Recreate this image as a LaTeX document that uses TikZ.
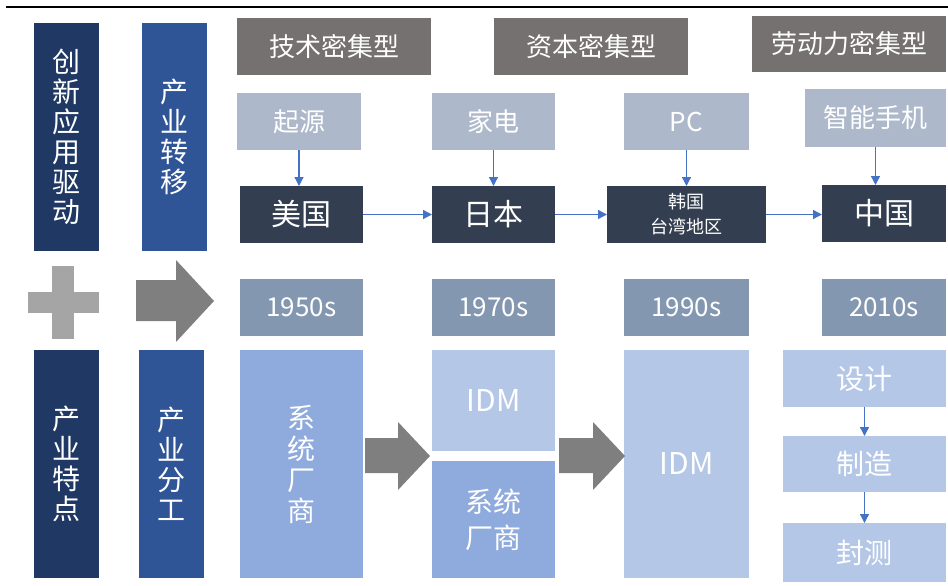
\documentclass[tikz,border=0pt]{standalone}
\usepackage{fontspec}
\setmainfont{Noto Sans CJK SC}
\usetikzlibrary{arrows.meta}
\definecolor{cNavy}{HTML}{203864}
\definecolor{cRoyal}{HTML}{2F5597}
\definecolor{cHead}{HTML}{767171}
\definecolor{cSub}{HTML}{ADB9CA}
\definecolor{cDark}{HTML}{333F50}
\definecolor{cYear}{HTML}{8497B0}
\definecolor{cMid}{HTML}{8FAADC}
\definecolor{cLight}{HTML}{B4C7E7}
\definecolor{cLink}{HTML}{4472C4}
\definecolor{cPlus}{HTML}{A5A5A5}
\definecolor{cBig}{HTML}{7F7F7F}
\begin{document}
\begin{tikzpicture}[x=1pt,y=-1pt,
  box/.style={anchor=north west, inner sep=0pt, outer sep=0pt, text=white, align=center},
  headbox/.style={box, fill=cHead, font=\fontsize{26}{30}\selectfont},
  subbox/.style={box, fill=cSub, font=\fontsize{26}{30}\selectfont},
  ctrybox/.style={box, fill=cDark, font=\fontsize{30}{34}\selectfont},
  yearbox/.style={box, fill=cYear, font=\fontsize{26}{30}\selectfont},
  vertbox/.style={box, font=\fontsize{28}{30}\selectfont},
  botbox/.style={box, font=\fontsize{28}{36}\selectfont},
  idmbox/.style={box, fill=cLight, font=\fontsize{30}{36}\selectfont},
  link/.style={draw=cLink, line width=1.3pt, -{Triangle[width=9pt,length=9pt]}}
]
\useasboundingbox (0,0) rectangle (948,586);
\draw[line width=2pt] (6,7.5) -- (948,7.5);

% left column
\node[vertbox, fill=cNavy, minimum width=65pt, minimum height=228pt] (l1) at (34,23) {创\\新\\应\\用\\驱\\动};
\node[vertbox, fill=cRoyal, minimum width=65pt, minimum height=228pt] (l2) at (142,23) {产\\业\\转\\移};
\node[vertbox, fill=cNavy, minimum width=65pt, minimum height=228pt] (l3) at (34,350) {产\\业\\特\\点};
\node[vertbox, fill=cRoyal, minimum width=65pt, minimum height=228pt] (l4) at (139,350) {产\\业\\分\\工};

% plus sign and big arrow
\fill[cPlus] (28,292) rectangle (99,313);
\fill[cPlus] (52,266) rectangle (74,339);
\fill[cBig] (136,280) -- (176,280) -- (176,260) -- (214,301) -- (176,342) -- (176,321) -- (136,321) -- cycle;

% headings
\node[headbox, minimum width=194pt, minimum height=57pt] (h1) at (237,18) {技术密集型};
\node[headbox, minimum width=194pt, minimum height=57pt] (h2) at (494,18) {资本密集型};
\node[headbox, minimum width=194pt, minimum height=56pt] (h3) at (752,16) {劳动力密集型};

% products
\node[subbox, minimum width=124pt, minimum height=57pt] (s1) at (237,93) {起源};
\node[subbox, minimum width=123pt, minimum height=57pt] (s2) at (432,93) {家电};
\node[subbox, minimum width=125pt, minimum height=57pt] (s3) at (624,93) {PC};
\node[subbox, minimum width=141pt, minimum height=58pt] (s4) at (805,89) {智能手机};

% countries
\node[ctrybox, minimum width=123pt, minimum height=57pt] (c1) at (240,186) {美国};
\node[ctrybox, minimum width=123pt, minimum height=57pt] (c2) at (432,186) {日本};
\node[box, fill=cDark, font=\fontsize{18}{25}\selectfont, minimum width=159pt, minimum height=57pt] (c3) at (607,186) {韩国\\台湾地区};
\node[ctrybox, minimum width=124pt, minimum height=57pt] (c4) at (822,185) {中国};

% years
\node[yearbox, minimum width=123pt, minimum height=57pt] (y1) at (240,279) {1950s};
\node[yearbox, minimum width=123pt, minimum height=57pt] (y2) at (432,279) {1970s};
\node[yearbox, minimum width=125pt, minimum height=57pt] (y3) at (624,279) {1990s};
\node[yearbox, minimum width=124pt, minimum height=57pt] (y4) at (822,279) {2010s};

% division of labour
\node[vertbox, fill=cMid, minimum width=123pt, minimum height=228pt, font=\fontsize{28}{31}\selectfont] (b1) at (240,350) {系\\统\\厂\\商};
\node[idmbox, minimum width=123pt, minimum height=101pt] (b2) at (432,350) {IDM};
\node[botbox, fill=cMid, minimum width=123pt, minimum height=117pt] (b3) at (432,461) {系统\\厂商};
\node[idmbox, minimum width=125pt, minimum height=228pt] (b4) at (624,350) {IDM};
\node[botbox, fill=cLight, minimum width=163pt, minimum height=57pt] (b5) at (783,350) {设计};
\node[botbox, fill=cLight, minimum width=163pt, minimum height=56pt] (b6) at (783,436) {制造};
\node[botbox, fill=cLight, minimum width=163pt, minimum height=59pt] (b7) at (783,523) {封测};

% big grey arrows
\fill[cBig] (365,438) -- (398,438) -- (398,422) -- (430,456) -- (398,490) -- (398,473) -- (365,473) -- cycle;
\fill[cBig] (559,438) -- (593,438) -- (593,422) -- (625,456) -- (593,490) -- (593,473) -- (559,473) -- cycle;

% connectors
\draw[link] (s1.south) -- (s1.south |- c1.north);
\draw[link] (s2.south) -- (s2.south |- c2.north);
\draw[link] (s3.south) -- (s3.south |- c3.north);
\draw[link] (s4.south) -- (s4.south |- c4.north);
\draw[link] (c1.east) -- (c2.west);
\draw[link] (c2.east) -- (c3.west);
\draw[link] (c3.east) -- (c3.east -| c4.west);
\draw[link] (b5.south) -- (b6.north);
\draw[link] (b6.south) -- (b7.north);
\end{tikzpicture}
\end{document}
